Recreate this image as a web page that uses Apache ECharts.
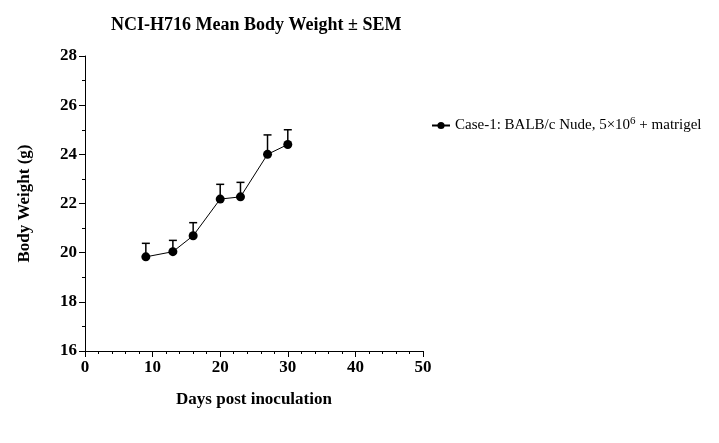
<!DOCTYPE html>
<html>
<head>
<meta charset="utf-8">
<script src="https://cdn.jsdelivr.net/npm/echarts@6/dist/echarts.min.js"></script>
<style>
  html, body { margin: 0; padding: 0; background: #fff; }
  #chart { width: 719px; height: 443px; }
</style>
</head>
<body>
<div id="chart"></div>
<script>
// dias y pesos medios con su SEM
var days = [9, 13, 16, 20, 23, 27, 30];
var meanWeight = [19.83, 20.04, 20.69, 22.18, 22.27, 24.0, 24.4];
var sem = [0.55, 0.46, 0.53, 0.6, 0.59, 0.79, 0.6];
var seriesName = 'Case-1: BALB/c Nude, 5×10{sup|6} + matrigel';

var serif = '"Liberation Serif", "Times New Roman", serif';

var points = days.map(function (d, i) { return [d, meanWeight[i]]; });
var errData = days.map(function (d, i) { return [d, meanWeight[i], meanWeight[i] + sem[i]]; });

var myChart = echarts.init(document.getElementById('chart'));
var option = {
  animation: false,
  title: {
    text: 'NCI-H716 Mean Body Weight ± SEM',
    left: 106, top: 11,
    textStyle: { fontFamily: serif, fontSize: 18, fontWeight: 'bold', color: '#000' }
  },
  legend: {
    left: 426, top: 111,
    itemWidth: 18, itemHeight: 9, itemGap: 8,
    data: [seriesName],
    formatter: function (n) { return n; },
    textStyle: {
      fontFamily: serif, fontSize: 15, color: '#000',
      rich: { sup: { fontFamily: serif, fontSize: 11, color: '#000', verticalAlign: 'top', padding: [0, 0, 8, 0] } }
    }
  },
  grid: { left: 85, top: 56, right: 296, bottom: 92, containLabel: false },
  xAxis: {
    type: 'value', min: 0, max: 50, interval: 10,
    name: 'Days post inoculation', nameLocation: 'middle', nameGap: 40,
    nameTextStyle: { fontFamily: serif, fontSize: 17, fontWeight: 'bold', color: '#000' },
    axisLine: { lineStyle: { color: '#000', width: 1 } },
    axisTick: { length: 6, lineStyle: { color: '#000' } },
    minorTick: { show: true, splitNumber: 5, length: 3, lineStyle: { color: '#000' } },
    axisLabel: { fontFamily: serif, fontSize: 17, fontWeight: 'bold', color: '#000', margin: 8 },
    splitLine: { show: false }
  },
  yAxis: {
    type: 'value', min: 16, max: 28, interval: 2,
    name: 'Body Weight (g)', nameLocation: 'middle', nameGap: 52,
    nameTextStyle: { fontFamily: serif, fontSize: 17, fontWeight: 'bold', color: '#000' },
    axisLine: { show: true, lineStyle: { color: '#000', width: 1 } },
    axisTick: { show: true, length: 6, lineStyle: { color: '#000' } },
    minorTick: { show: true, splitNumber: 2, length: 3, lineStyle: { color: '#000' } },
    axisLabel: { fontFamily: serif, fontSize: 17, fontWeight: 'bold', color: '#000', margin: 8 },
    splitLine: { show: false }
  },
  series: [
    {
      type: 'custom',
      name: 'err',
      data: errData,
      encode: { x: 0, y: [1, 2] },
      z: 1,
      renderItem: function (params, api) {
        var base = api.coord([api.value(0), api.value(1)]);
        var top = api.coord([api.value(0), api.value(2)]);
        var style = { stroke: '#000', lineWidth: 1.5 };
        return {
          type: 'group',
          children: [
            { type: 'line', shape: { x1: base[0], y1: base[1], x2: top[0], y2: top[1] }, style: style },
            { type: 'line', shape: { x1: top[0] - 4, y1: top[1], x2: top[0] + 4, y2: top[1] }, style: style }
          ]
        };
      }
    },
    {
      name: seriesName,
      type: 'line',
      data: points,
      symbol: 'circle',
      symbolSize: 9,
      z: 2,
      itemStyle: { color: '#000' },
      lineStyle: { color: '#000', width: 1 }
    }
  ]
};
myChart.setOption(option);
</script>
</body>
</html>
